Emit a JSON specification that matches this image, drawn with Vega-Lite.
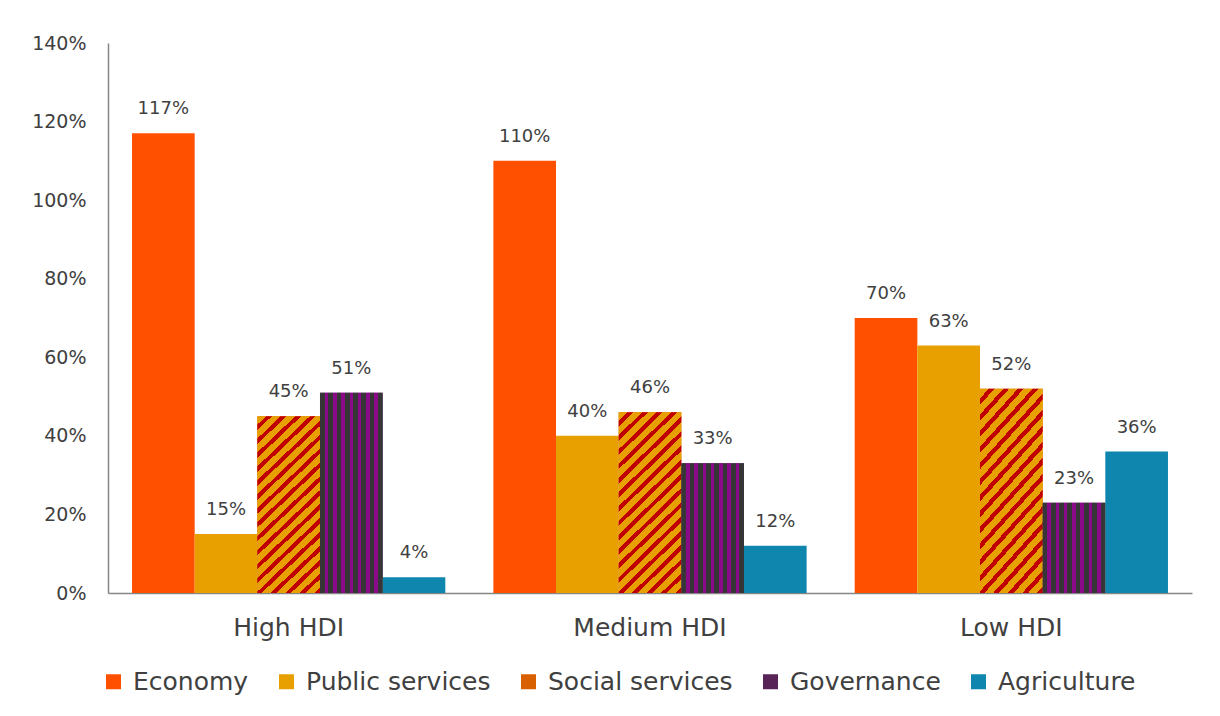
{
  "$schema": "https://vega.github.io/schema/vega-lite/v6.json",
  "width": 1084,
  "height": 550,
  "autosize": {"type": "none"},
  "padding": {"left": 108, "top": 43, "right": 28, "bottom": 123},
  "background": "white",
  "config": {
    "view": {"stroke": null},
    "font": "DejaVu Sans"
  },
  "data": {
    "values": [
      {"group": "High HDI", "series": "Economy", "value": 1.17},
      {"group": "High HDI", "series": "Public services", "value": 0.15},
      {"group": "High HDI", "series": "Social services", "value": 0.45},
      {"group": "High HDI", "series": "Governance", "value": 0.51},
      {"group": "High HDI", "series": "Agriculture", "value": 0.04},
      {"group": "Medium HDI", "series": "Economy", "value": 1.10},
      {"group": "Medium HDI", "series": "Public services", "value": 0.40},
      {"group": "Medium HDI", "series": "Social services", "value": 0.46},
      {"group": "Medium HDI", "series": "Governance", "value": 0.33},
      {"group": "Medium HDI", "series": "Agriculture", "value": 0.12},
      {"group": "Low HDI", "series": "Economy", "value": 0.70},
      {"group": "Low HDI", "series": "Public services", "value": 0.63},
      {"group": "Low HDI", "series": "Social services", "value": 0.52},
      {"group": "Low HDI", "series": "Governance", "value": 0.23},
      {"group": "Low HDI", "series": "Agriculture", "value": 0.36}
    ]
  },
  "encoding": {
    "x": {
      "field": "group", "type": "nominal",
      "sort": ["High HDI", "Medium HDI", "Low HDI"],
      "scale": {"paddingInner": 0.133, "paddingOuter": 0.0665},
      "axis": {"title": null, "labelAngle": 0, "ticks": false, "domainColor": "#868686", "domainWidth": 1.5, "labelFontSize": 25, "labelColor": "#404040", "labelPadding": 22, "labelFont": "DejaVu Sans"}
    },
    "xOffset": {
      "field": "series", "type": "nominal",
      "sort": ["Economy", "Public services", "Social services", "Governance", "Agriculture"],
      "scale": {"domain": ["Economy", "Public services", "Social services", "Governance", "Agriculture"], "paddingInner": 0, "paddingOuter": 0}
    },
    "y": {
      "field": "value", "type": "quantitative",
      "scale": {"domain": [0, 1.4], "nice": false},
      "axis": {"title": null, "values": [0, 0.2, 0.4, 0.6, 0.8, 1.0, 1.2, 1.4], "format": ".0%", "grid": false, "ticks": false, "domainColor": "#868686", "domainWidth": 1.5, "labelFontSize": 19, "labelColor": "#404040", "labelPadding": 22, "labelFont": "DejaVu Sans"}
    }
  },
  "layer": [
    {
      "mark": {"type": "bar"},
      "encoding": {
        "fill": {
          "field": "series", "type": "nominal",
          "sort": ["Economy", "Public services", "Social services", "Governance", "Agriculture"],
          "scale": {
            "domain": ["Economy", "Public services", "Social services", "Governance", "Agriculture"],
            "range": ["#FF5000", "#E8A000", "#D86000", "#582458", "#0E86AE"]
          },
          "legend": {
            "orient": "none", "legendX": -7, "legendY": 626,
            "direction": "horizontal", "columns": 5, "title": null,
            "symbolType": "square", "symbolSize": 225, "symbolStrokeWidth": 0,
            "labelFontSize": 25, "labelColor": "#404040", "labelFont": "DejaVu Sans",
            "columnPadding": 25, "labelOffset": 7, "labelLimit": 400
          }
        }
      }
    },
    {
      "transform": [{"filter": "datum.series === 'Social services'"}],
      "mark": {"type": "bar", "fill": {"gradient": "linear", "x1": 0, "y1": 0, "x2": 0.406, "y2": 1.201, "stops": [
                {"offset": 0, "color": "#E8A000"}, {"offset": 0.0353, "color": "#E8A000"}, {"offset": 0.0353, "color": "#C00000"}, {"offset": 0.0588, "color": "#C00000"},
                {"offset": 0.0588, "color": "#E8A000"}, {"offset": 0.0941, "color": "#E8A000"}, {"offset": 0.0941, "color": "#C00000"}, {"offset": 0.1176, "color": "#C00000"},
                {"offset": 0.1176, "color": "#E8A000"}, {"offset": 0.1529, "color": "#E8A000"}, {"offset": 0.1529, "color": "#C00000"}, {"offset": 0.1765, "color": "#C00000"},
                {"offset": 0.1765, "color": "#E8A000"}, {"offset": 0.2118, "color": "#E8A000"}, {"offset": 0.2118, "color": "#C00000"}, {"offset": 0.2353, "color": "#C00000"},
                {"offset": 0.2353, "color": "#E8A000"}, {"offset": 0.2706, "color": "#E8A000"}, {"offset": 0.2706, "color": "#C00000"}, {"offset": 0.2941, "color": "#C00000"},
                {"offset": 0.2941, "color": "#E8A000"}, {"offset": 0.3294, "color": "#E8A000"}, {"offset": 0.3294, "color": "#C00000"}, {"offset": 0.3529, "color": "#C00000"},
                {"offset": 0.3529, "color": "#E8A000"}, {"offset": 0.3882, "color": "#E8A000"}, {"offset": 0.3882, "color": "#C00000"}, {"offset": 0.4118, "color": "#C00000"},
                {"offset": 0.4118, "color": "#E8A000"}, {"offset": 0.4471, "color": "#E8A000"}, {"offset": 0.4471, "color": "#C00000"}, {"offset": 0.4706, "color": "#C00000"},
                {"offset": 0.4706, "color": "#E8A000"}, {"offset": 0.5059, "color": "#E8A000"}, {"offset": 0.5059, "color": "#C00000"}, {"offset": 0.5294, "color": "#C00000"},
                {"offset": 0.5294, "color": "#E8A000"}, {"offset": 0.5647, "color": "#E8A000"}, {"offset": 0.5647, "color": "#C00000"}, {"offset": 0.5882, "color": "#C00000"},
                {"offset": 0.5882, "color": "#E8A000"}, {"offset": 0.6235, "color": "#E8A000"}, {"offset": 0.6235, "color": "#C00000"}, {"offset": 0.6471, "color": "#C00000"},
                {"offset": 0.6471, "color": "#E8A000"}, {"offset": 0.6824, "color": "#E8A000"}, {"offset": 0.6824, "color": "#C00000"}, {"offset": 0.7059, "color": "#C00000"},
                {"offset": 0.7059, "color": "#E8A000"}, {"offset": 0.7412, "color": "#E8A000"}, {"offset": 0.7412, "color": "#C00000"}, {"offset": 0.7647, "color": "#C00000"},
                {"offset": 0.7647, "color": "#E8A000"}, {"offset": 0.8, "color": "#E8A000"}, {"offset": 0.8, "color": "#C00000"}, {"offset": 0.8235, "color": "#C00000"},
                {"offset": 0.8235, "color": "#E8A000"}, {"offset": 0.8588, "color": "#E8A000"}, {"offset": 0.8588, "color": "#C00000"}, {"offset": 0.8824, "color": "#C00000"},
                {"offset": 0.8824, "color": "#E8A000"}, {"offset": 0.9176, "color": "#E8A000"}, {"offset": 0.9176, "color": "#C00000"}, {"offset": 0.9412, "color": "#C00000"},
                {"offset": 0.9412, "color": "#E8A000"}, {"offset": 0.9765, "color": "#E8A000"}, {"offset": 0.9765, "color": "#C00000"}, {"offset": 1, "color": "#C00000"}
              ]}},
      "encoding": {}
    },
    {
      "transform": [{"filter": "datum.series === 'Governance'"}],
      "mark": {"type": "bar", "fill": {"gradient": "linear", "x1": 0, "y1": 0, "x2": 1, "y2": 0, "stops": [
                {"offset": 0, "color": "#363636"}, {"offset": 0.075, "color": "#363636"}, {"offset": 0.075, "color": "#8A0A8A"}, {"offset": 0.132, "color": "#8A0A8A"},
                {"offset": 0.132, "color": "#363636"}, {"offset": 0.207, "color": "#363636"}, {"offset": 0.207, "color": "#8A0A8A"}, {"offset": 0.264, "color": "#8A0A8A"},
                {"offset": 0.264, "color": "#363636"}, {"offset": 0.339, "color": "#363636"}, {"offset": 0.339, "color": "#8A0A8A"}, {"offset": 0.396, "color": "#8A0A8A"},
                {"offset": 0.396, "color": "#363636"}, {"offset": 0.471, "color": "#363636"}, {"offset": 0.471, "color": "#8A0A8A"}, {"offset": 0.528, "color": "#8A0A8A"},
                {"offset": 0.528, "color": "#363636"}, {"offset": 0.603, "color": "#363636"}, {"offset": 0.603, "color": "#8A0A8A"}, {"offset": 0.66, "color": "#8A0A8A"},
                {"offset": 0.66, "color": "#363636"}, {"offset": 0.735, "color": "#363636"}, {"offset": 0.735, "color": "#8A0A8A"}, {"offset": 0.792, "color": "#8A0A8A"},
                {"offset": 0.792, "color": "#363636"}, {"offset": 0.867, "color": "#363636"}, {"offset": 0.867, "color": "#8A0A8A"}, {"offset": 0.924, "color": "#8A0A8A"},
                {"offset": 0.924, "color": "#363636"}, {"offset": 1, "color": "#363636"}
              ]}},
      "encoding": {}
    },
    {
      "mark": {"type": "text", "baseline": "bottom", "dy": -15, "fontSize": 18, "color": "#404040", "font": "DejaVu Sans"},
      "encoding": {
        "text": {"field": "value", "type": "quantitative", "format": ".0%"}
      }
    }
  ]
}
